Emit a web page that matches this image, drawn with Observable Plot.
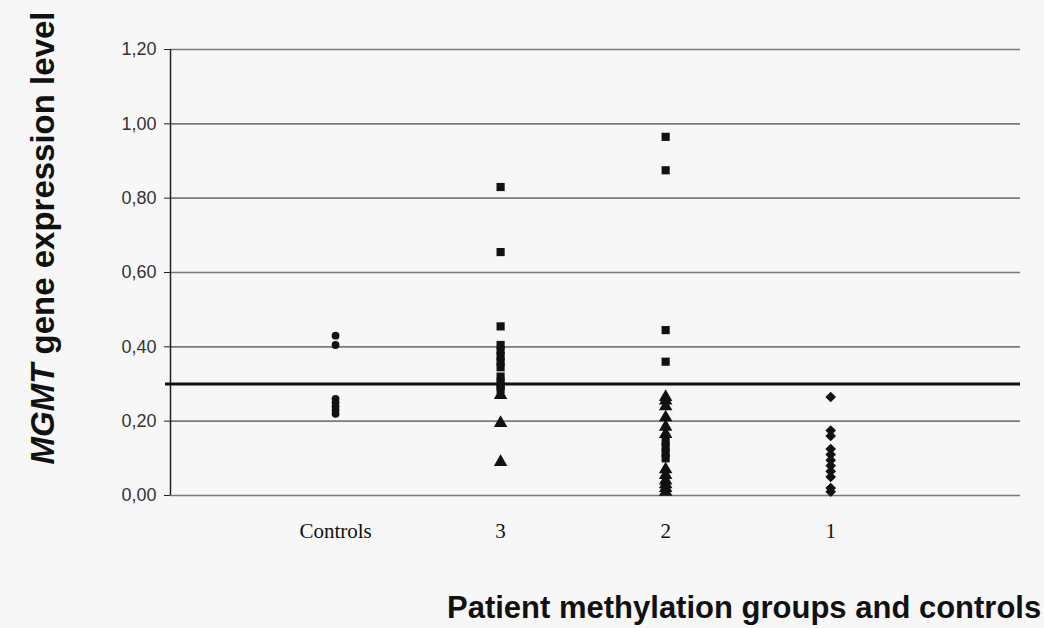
<!DOCTYPE html>
<html>
<head>
<meta charset="utf-8">
<script src="https://cdn.jsdelivr.net/npm/d3@7"></script>
<script src="https://cdn.jsdelivr.net/npm/@observablehq/plot@0.6"></script>
<style>
  html, body { margin: 0; padding: 0; background: #f7f7f7; }
  #chart { width: 1044px; height: 628px; overflow: hidden; }
</style>
</head>
<body>
<div id="chart"></div>
<script>
// Categories along the x axis (left to right)
const categories = ["Controls", "3", "2", "1"];

// Y-axis tick values
const yTicks = [0, 0.2, 0.4, 0.6, 0.8, 1.0, 1.2];

// Threshold line value
const threshold = [0.30];

// Controls (circles)
const controlsCircles = [0.43, 0.405, 0.26, 0.25, 0.24, 0.23, 0.22];

// Group 3
const group3Squares = [0.83, 0.655, 0.455, 0.405, 0.39, 0.375, 0.36, 0.345, 0.32, 0.305, 0.295, 0.285];
const group3Triangles = [0.27, 0.195, 0.09];

// Group 2
const group2Squares = [0.965, 0.875, 0.445, 0.36, 0.145, 0.13, 0.115, 0.10];
const group2Triangles = [0.265, 0.255, 0.24, 0.21, 0.185, 0.165, 0.07, 0.055, 0.04, 0.03, 0.02, 0.01];

// Group 1 (diamonds)
const group1Diamonds = [0.265, 0.175, 0.16, 0.125, 0.11, 0.095, 0.08, 0.065, 0.05, 0.02, 0.01];

const pos = name => categories.indexOf(name) + 1;
const rows = (group, values, shape) => values.map(v => ({x: pos(group), value: v, shape}));

const circles = rows("Controls", controlsCircles, "circle");
const squares = [...rows("3", group3Squares, "square"), ...rows("2", group2Squares, "square")];
const triangles = [...rows("3", group3Triangles, "triangle"), ...rows("2", group2Triangles, "triangle")];
const diamonds = rows("1", group1Diamonds, "diamond2");

const plot = Plot.plot({
  width: 1044,
  height: 628,
  marginLeft: 170,
  marginRight: 24,
  marginTop: 49,
  marginBottom: 133,
  style: {background: "#f7f7f7", overflow: "hidden"},
  x: {domain: [0, 5.15]},
  y: {domain: [0, 1.2]},
  marks: [
    Plot.ruleY(yTicks, {stroke: "#7a7a7a", strokeWidth: 1.6}),
    Plot.ruleX([0], {y1: 0, y2: 1.2, stroke: "#222", strokeWidth: 1.5}),
    Plot.ruleY(threshold, {stroke: "#111", strokeWidth: 3, insetLeft: -5}),
    Plot.axisY({
      ticks: yTicks,
      tickFormat: d => d.toFixed(2).replace(".", ","),
      tickSize: 6,
      tickPadding: 8,
      fontSize: 18,
      fontFamily: "Liberation Sans, Arial, sans-serif",
      fill: "#333",
      stroke: "#222",
      label: null
    }),
    Plot.axisX({
      ticks: [1, 2, 3, 4],
      tickFormat: i => categories[i - 1],
      tickSize: 0,
      tickPadding: 28,
      fontSize: 21,
      fontFamily: "Liberation Serif, Times New Roman, serif",
      fill: "#111",
      label: null
    }),
    Plot.dot(circles, {x: "x", y: "value", symbol: "circle", r: 3.9, fill: "#111", stroke: "none"}),
    Plot.dot(squares, {x: "x", y: "value", symbol: "square", r: 4.6, fill: "#111", stroke: "none"}),
    Plot.dot(triangles, {x: "x", y: "value", symbol: "triangle", r: 5, fill: "#111", stroke: "none"}),
    Plot.dot(diamonds, {x: "x", y: "value", symbol: "diamond2", r: 4.8, fill: "#111", stroke: "none"})
  ]
});

const svg = d3.select(plot);
const yTitle = svg.append("text")
  .attr("transform", "translate(54,238) rotate(-90)")
  .attr("text-anchor", "middle")
  .attr("fill", "#111")
  .style("font", "bold 33px 'Liberation Sans', Arial, sans-serif");
yTitle.append("tspan").style("font-style", "italic").text("MGMT");
yTitle.append("tspan").text(" gene expression level");

svg.append("text")
  .attr("x", 447)
  .attr("y", 618)
  .attr("text-anchor", "start")
  .attr("fill", "#111")
  .style("font", "bold 31px 'Liberation Sans', Arial, sans-serif")
  .text("Patient methylation groups and controls");

document.getElementById("chart").appendChild(plot);
</script>
</body>
</html>
